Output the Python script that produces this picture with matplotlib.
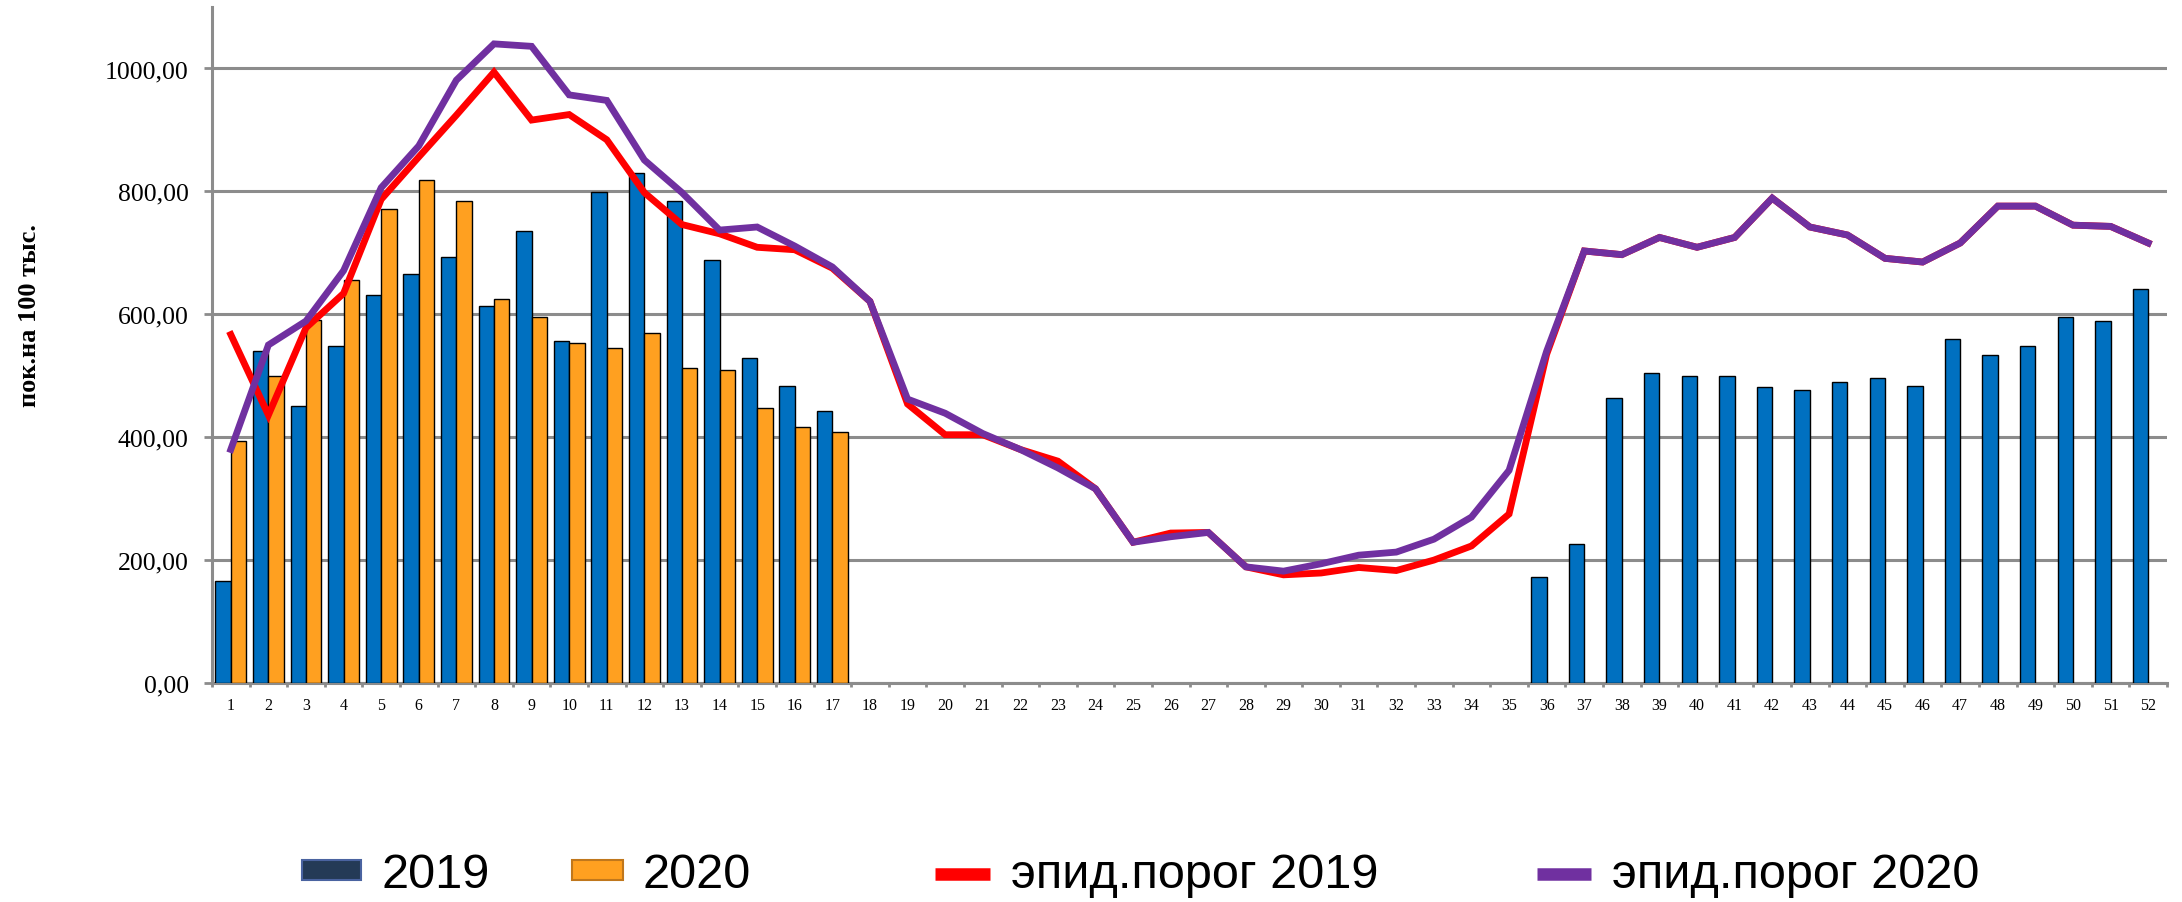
import numpy as np
import matplotlib
matplotlib.use('Agg')
import matplotlib.pyplot as plt
from matplotlib.patches import Patch
from matplotlib.lines import Line2D
from matplotlib.ticker import FuncFormatter, FixedLocator

nan = np.nan
weeks = [str(i) for i in range(1, 53)]

cases_2019 = ([166, 541, 450, 549, 632, 665, 693, 613, 736, 557, 799, 830, 785, 688, 529, 484, 442]
              + [nan] * 18
              + [173, 226, 463, 505, 500, 500, 481, 476, 490, 497, 484, 560, 533, 549, 596, 589, 641])
cases_2020 = ([393, 499, 591, 655, 771, 819, 785, 625, 596, 554, 545, 570, 513, 510, 447, 417, 409]
              + [nan] * 35)

threshold_2019 = [567, 436, 578, 634, 787, 856, 924, 994, 916, 925, 884, 798, 746, 731, 709, 705, 675, 621,
                  454, 404, 404, 380, 361, 316, 229, 244, 245, 189, 176, 179, 188, 183, 200, 223, 275, 535,
                  703, 697, 725, 709, 725, 789, 742, 729, 691, 685, 716, 776, 776, 745, 743, 716]
threshold_2020 = [380, 550, 589, 671, 806, 874, 981, 1040, 1036, 957, 948, 851, 798, 737, 742, 711, 677, 621,
                  462, 439, 406, 380, 350, 316, 229, 238, 245, 189, 182, 194, 208, 213, 234, 270, 346, 540,
                  703, 697, 725, 709, 725, 789, 742, 729, 691, 685, 716, 776, 776, 745, 743, 716]

y_ticks = [0, 200, 400, 600, 800, 1000]
y_label = 'пок.на 100 тыс.'
series_labels = ['2019', '2020', 'эпид.порог 2019', 'эпид.порог 2020']

W, H = 2182, 903
fig = plt.figure(figsize=(W / 100, H / 100), dpi=100)
ax = fig.add_axes([212 / W, 1 - 684 / H, (2167 - 212) / W, (684 - 8) / H])

x = np.arange(len(weeks))
grid_c = '#8c8c8c'
ax.bar(x - 0.205, cases_2019, width=0.41, color='#0070c0', edgecolor='black', linewidth=1.0, zorder=3)
ax.bar(x + 0.205, cases_2020, width=0.41, color='#ffa020', edgecolor='black', linewidth=1.0, zorder=3)
ax.plot(x, threshold_2019, color='#ff0000', lw=4.9, zorder=4, solid_joinstyle='miter')
ax.plot(x, threshold_2020, color='#7030a0', lw=4.9, zorder=5, solid_joinstyle='miter')

ax.set_xlim(-0.5, len(weeks) - 0.5)
ax.set_ylim(0, 1100)
ax.set_axisbelow(True)
ax.yaxis.grid(True, color=grid_c, lw=2.2, zorder=0)

ax.yaxis.set_major_locator(FixedLocator(y_ticks))
ax.yaxis.set_major_formatter(FuncFormatter(lambda v, p: f"{v:.2f}".replace('.', ',')))
ax.tick_params(axis='y', direction='out', length=5.8, width=2.0, color=grid_c, pad=11,
               labelsize=18.5, labelcolor='black')
for t in ax.get_yticklabels():
    t.set_fontfamily('Liberation Serif')

ax.set_xticks(x)
ax.set_xticklabels(weeks, fontfamily='Liberation Serif', fontsize=11.5)
ax.set_xticks(np.arange(-0.5, len(weeks), 1), minor=True)
ax.tick_params(axis='x', which='major', length=0, pad=10)
ax.tick_params(axis='x', which='minor', direction='out', length=3, width=2.0, color=grid_c)

for s in ['top', 'right']:
    ax.spines[s].set_visible(False)
for s in ['left', 'bottom']:
    ax.spines[s].set_color(grid_c)
    ax.spines[s].set_linewidth(2.2)

ax.set_ylabel(y_label, fontfamily='Liberation Serif', fontweight='bold', fontsize=19, va='center')
ax.yaxis.set_label_coords((30 - 212) / 1955, (684 - 316) / 676)

# legend entries, individually placed
handles = [
    Patch(facecolor='#243a56', edgecolor='#4a63a0', linewidth=1.5),
    Patch(facecolor='#ffa020', edgecolor='#c0771c', linewidth=1.5),
    Line2D([], [], color='#ff0000', lw=9, solid_capstyle='butt'),
    Line2D([], [], color='#7030a0', lw=9, solid_capstyle='butt'),
]
starts = [302, 572, 935, 1537]
hlens = [1.22, 1.04, 1.14, 1.12]
for h, lab, xs, hl in zip(handles, series_labels, starts, hlens):
    fig.legend([h], [lab], loc='center left', bbox_to_anchor=(xs / W, 1 - 876 / H),
               frameon=False, borderpad=0, borderaxespad=0, handlelength=hl, handleheight=0.25,
               handletextpad=0.42, prop={'family': 'Liberation Sans', 'size': 35})

fig.savefig('out.png', dpi=100)
